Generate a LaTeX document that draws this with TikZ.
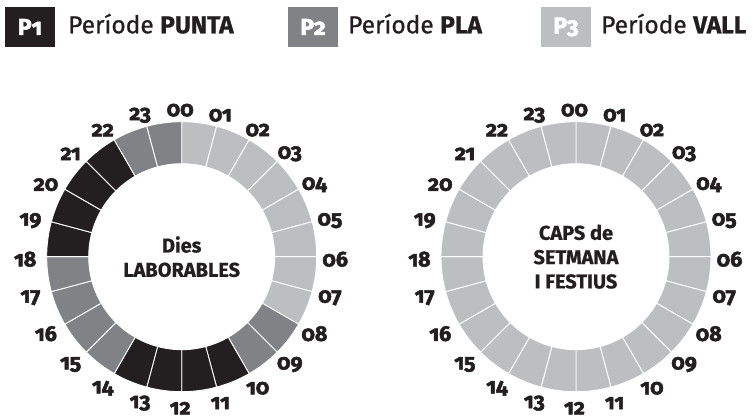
\documentclass[tikz,border=0pt]{standalone}
\usepackage{fontspec}
\setmainfont[Numbers=OldStyle]{Fira Sans}
\newfontfamily\hourfont[Numbers=OldStyle, UprightFeatures={FakeBold=2.4}, BoldFeatures={FakeBold=2.4}]{Fira Sans}
\newfontfamily\ctrfont[Numbers=OldStyle, BoldFeatures={FakeBold=0.8}]{Fira Sans}
\newfontfamily\legfont[Numbers=OldStyle, UprightFeatures={FakeBold=0.9}, BoldFeatures={FakeBold=0.8}]{Fira Sans}
\definecolor{cPone}{HTML}{231F20}
\definecolor{cPtwo}{HTML}{808285}
\definecolor{cPthree}{HTML}{BCBEC0}
\begin{document}
\begin{tikzpicture}[x=1pt,y=1pt,
  seg/.style={draw=white, line width=0.9pt},
  hour/.style={font=\hourfont\fontsize{21.5}{21.5}\selectfont\bfseries, inner sep=0pt, text=cPone},
  centertext/.style={font=\ctrfont\fontsize{20}{24.3}\selectfont\bfseries, align=center, inner sep=0pt, text=cPone},
  legbox/.style={minimum width=50pt, minimum height=40pt, inner sep=0pt, text=white, font=\hourfont\fontsize{23}{23}\selectfont\bfseries},
  legtext/.style={anchor=base west, inner sep=0pt, text=cPone, font=\legfont\fontsize{24.5}{24.5}\selectfont}]
\useasboundingbox (0,0) rectangle (756,417);
% legend
\node[legbox, fill=cPone] (k1) at (30,390) {P1};
\node[legtext] (t1) at (68,383.7) {Període \textbf{PUNTA}};
\node[legbox, fill=cPtwo] (k2) at (313,390) {P2};
\node[legtext] (t2) at (348,383.7) {Període \textbf{PLA}};
\node[legbox, fill=cPthree] (k3) at (566,390) {P3};
\node[legtext] (t3) at (601,383.7) {Període \textbf{VALL}};
% left ring
\begin{scope}[shift={(181.7,160.3)}]
  \foreach \h/\c in {0/cPthree,1/cPthree,2/cPthree,3/cPthree,4/cPthree,5/cPthree,6/cPthree,7/cPthree,
                     8/cPtwo,9/cPtwo,10/cPone,11/cPone,12/cPone,13/cPone,
                     14/cPtwo,15/cPtwo,16/cPtwo,17/cPtwo,18/cPone,19/cPone,20/cPone,21/cPone,22/cPtwo,23/cPtwo} {
    \pgfmathsetmacro\a{90-15*\h}
    \pgfmathsetmacro\b{75-15*\h}
    \filldraw[seg, fill=\c] (\a:93pt) -- (\a:135pt) arc[start angle=\a, end angle=\b, radius=135pt]
      -- (\b:93pt) arc[start angle=\b, end angle=\a, radius=93pt] -- cycle;
  }
  \begin{scope}[shift={(-1.5,-2.5)}]
    \foreach \h in {0,...,23} {
      \pgfmathsetmacro\a{90-15*\h}
      \node[hour] (L\h) at (\a:155pt and 149pt) {\ifnum\h<10 0\fi\h};
    }
  \end{scope}
  \node[centertext] (Ltxt) at (0,0) {Dies\\LABORABLES};
\end{scope}
% right ring
\begin{scope}[shift={(576,160.3)}]
  \foreach \h in {0,...,23} {
    \pgfmathsetmacro\a{90-15*\h}
    \pgfmathsetmacro\b{75-15*\h}
    \filldraw[seg, fill=cPthree] (\a:93pt) -- (\a:135pt) arc[start angle=\a, end angle=\b, radius=135pt]
      -- (\b:93pt) arc[start angle=\b, end angle=\a, radius=93pt] -- cycle;
  }
  \begin{scope}[shift={(-1.5,-2.5)}]
    \foreach \h in {0,...,23} {
      \pgfmathsetmacro\a{90-15*\h}
      \node[hour] (R\h) at (\a:155pt and 149pt) {\ifnum\h<10 0\fi\h};
    }
  \end{scope}
  \node[centertext] (Rtxt) at (0,0) {CAPS de\\SETMANA\\I FESTIUS};
\end{scope}
\end{tikzpicture}
\end{document}
